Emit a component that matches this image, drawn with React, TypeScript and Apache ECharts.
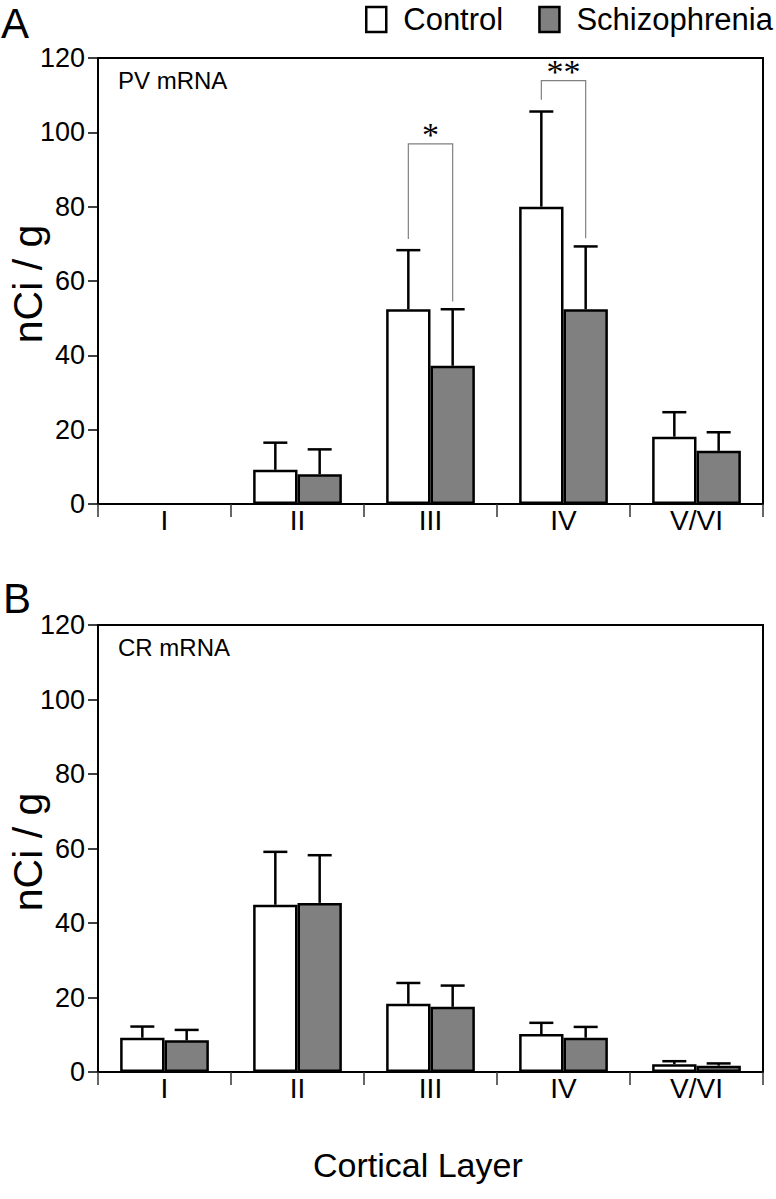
import React, { useEffect, useRef } from "react";
import * as echarts from "echarts";

// ---------- data ----------
const categories = ["I", "II", "III", "IV", "V/VI"];

// Panel A: PV mRNA (nCi/g), mean and upper error
const pvControl = [null, 9.2, 52.4, 80.0, 18.1];
const pvControlErr = [null, 7.3, 15.9, 25.6, 6.6];
const pvSchizo = [null, 8.0, 37.2, 52.4, 14.3];
const pvSchizoErr = [null, 6.7, 15.2, 16.9, 5.0];

// Panel B: CR mRNA (nCi/g)
const crControl = [9.2, 44.9, 18.3, 10.2, 2.1];
const crControlErr = [3.0, 14.2, 5.6, 3.0, 0.8];
const crSchizo = [8.5, 45.4, 17.5, 9.2, 1.7];
const crSchizoErr = [2.8, 12.8, 5.7, 2.9, 0.6];

// Significance brackets in panel A
const sigCategory = [2, 3];
const sigTop = [96.9, 113.9];
const sigLeftEnd = [71.3, 108.8];
const sigRightEnd = [54.5, 71.5];
const sigLabel = ["*", "**"];

const FONT = "'Liberation Sans', Arial, Helvetica, sans-serif";

function errData(vals: (number | null)[], errs: (number | null)[], side: number) {
  const out: any[] = [];
  vals.forEach((v, i) => {
    if (v != null && errs[i] != null) out.push([i, v, errs[i], side]);
  });
  return out;
}

function renderErr(params: any, api: any) {
  const cat = api.value(0);
  const val = api.value(1);
  const err = api.value(2);
  const side = api.value(3);
  const bw = api.size([1, 0])[0] / 3;
  const base = api.coord([cat, val]);
  const top = api.coord([cat, val + err]);
  const x = base[0] + (side * bw) / 2;
  const style = { stroke: "#000", lineWidth: 2.5 };
  return {
    type: "group",
    children: [
      { type: "line", shape: { x1: x, y1: base[1], x2: x, y2: top[1] }, style },
      { type: "line", shape: { x1: x - 12, y1: top[1], x2: x + 12, y2: top[1] }, style },
    ],
  };
}

function renderSig(params: any, api: any) {
  const cat = api.value(0);
  const bw = api.size([1, 0])[0] / 3;
  const c = api.coord([cat, api.value(1)]);
  const xl = c[0] - bw / 2;
  const xr = c[0] + bw / 2;
  const yTop = c[1];
  const yL = api.coord([cat, api.value(2)])[1];
  const yR = api.coord([cat, api.value(3)])[1];
  return {
    type: "group",
    children: [
      {
        type: "polyline",
        shape: { points: [[xl, yL], [xl, yTop], [xr, yTop], [xr, yR]] },
        style: { stroke: "#808080", lineWidth: 1.2, fill: "none" },
      },
      {
        type: "text",
        style: {
          text: sigLabel[params.dataIndex],
          x: c[0],
          y: yTop + 8,
          align: "center",
          verticalAlign: "bottom",
          fontSize: 34,
          fontFamily: "'Liberation Serif', 'Times New Roman', serif",
          fill: "#000",
        },
      },
    ],
  };
}

function makeX(gridIndex: number) {
  return {
    type: "category",
    gridIndex,
    data: categories,
    axisLine: { lineStyle: { color: "#000", width: 2 } },
    axisTick: { show: true, length: 13, lineStyle: { color: "#333", width: 1.5 } },
    axisLabel: { color: "#000", fontSize: 28, fontFamily: FONT, margin: 2 },
  };
}

function makeY(gridIndex: number) {
  return {
    type: "value",
    gridIndex,
    min: 0,
    max: 120,
    interval: 20,
    axisLine: { show: true, lineStyle: { color: "#000", width: 2 } },
    axisTick: { show: true, length: 10, lineStyle: { color: "#000", width: 1.5 } },
    axisLabel: { color: "#000", fontSize: 27, fontFamily: FONT, margin: 13 },
    splitLine: { show: false },
  };
}

const barBorder = { borderColor: "#000", borderWidth: 2.5 };

function barSeries(name: string, data: (number | null)[], idx: number, color: string) {
  return {
    name,
    type: "bar",
    xAxisIndex: idx,
    yAxisIndex: idx,
    data,
    barGap: "0%",
    barCategoryGap: "33.3%",
    itemStyle: { color, ...barBorder },
  };
}

function errSeries(data: any[], idx: number) {
  return {
    type: "custom",
    xAxisIndex: idx,
    yAxisIndex: idx,
    data,
    renderItem: renderErr,
    z: 3,
    silent: true,
  };
}

function yName(cy: number) {
  return {
    type: "text",
    x: 28,
    y: cy,
    rotation: Math.PI / 2,
    style: {
      text: "nCi / g",
      fontSize: 41,
      fontFamily: FONT,
      fill: "#000",
      align: "center",
      verticalAlign: "middle",
    },
  };
}

export default function App() {
  const ref = useRef<HTMLDivElement>(null);
  useEffect(() => {
    if (!ref.current) return;
    const chart = echarts.init(ref.current, null, { renderer: "svg" });
    const sigData = sigCategory.map((c, i) => [c, sigTop[i], sigLeftEnd[i], sigRightEnd[i]]);
    chart.setOption({
      animation: false,
      backgroundColor: "#fff",
      textStyle: { fontFamily: FONT },
      legend: {
        left: 365,
        top: 4,
        width: 410,
        padding: 0,
        itemWidth: 20,
        itemHeight: 25,
        itemGap: 35,
        icon: "rect",
        textStyle: { fontSize: 31, color: "#000", fontFamily: FONT, padding: [0, 0, 0, 12] },
        data: [
          { name: "Control", itemStyle: { color: "#fff", borderColor: "#000", borderWidth: 2.5 } },
          { name: "Schizophrenia", itemStyle: { color: "#808080", borderColor: "#000", borderWidth: 2.5 } },
        ],
        selectedMode: false,
      },
      grid: [
        { left: 98, top: 58, width: 665, height: 446, show: true, borderColor: "#000", borderWidth: 2, containLabel: false, outerBoundsMode: "none" },
        { left: 98, top: 625, width: 665, height: 447, show: true, borderColor: "#000", borderWidth: 2, containLabel: false, outerBoundsMode: "none" },
      ],
      xAxis: [makeX(0), makeX(1)],
      yAxis: [makeY(0), makeY(1)],
      graphic: [
        { type: "text", left: 1, top: 2, style: { text: "A", fontSize: 42, fontFamily: FONT, fill: "#000" } },
        { type: "text", left: 3, top: 577, style: { text: "B", fontSize: 42, fontFamily: FONT, fill: "#000" } },
        yName(284),
        yName(852),
        { type: "text", left: 118, top: 68, style: { text: "PV mRNA", fontSize: 24, fontFamily: FONT, fill: "#000" } },
        { type: "text", left: 118, top: 635, style: { text: "CR mRNA", fontSize: 24, fontFamily: FONT, fill: "#000" } },
        { type: "text", left: 313, top: 1148, style: { text: "Cortical Layer", fontSize: 34, fontFamily: FONT, fill: "#000" } },
      ],
      series: [
        barSeries("Control", pvControl, 0, "#fff"),
        barSeries("Schizophrenia", pvSchizo, 0, "#808080"),
        errSeries(errData(pvControl, pvControlErr, -1), 0),
        errSeries(errData(pvSchizo, pvSchizoErr, 1), 0),
        {
          type: "custom",
          xAxisIndex: 0,
          yAxisIndex: 0,
          data: sigData,
          renderItem: renderSig,
          z: 4,
          silent: true,
        },
        barSeries("Control", crControl, 1, "#fff"),
        barSeries("Schizophrenia", crSchizo, 1, "#808080"),
        errSeries(errData(crControl, crControlErr, -1), 1),
        errSeries(errData(crSchizo, crSchizoErr, 1), 1),
      ],
    });
    return () => chart.dispose();
  }, []);
  return (
    <div
      ref={ref}
      style={{ position: "absolute", left: 0, top: 0, width: 776, height: 1199, background: "#fff" }}
    />
  );
}
